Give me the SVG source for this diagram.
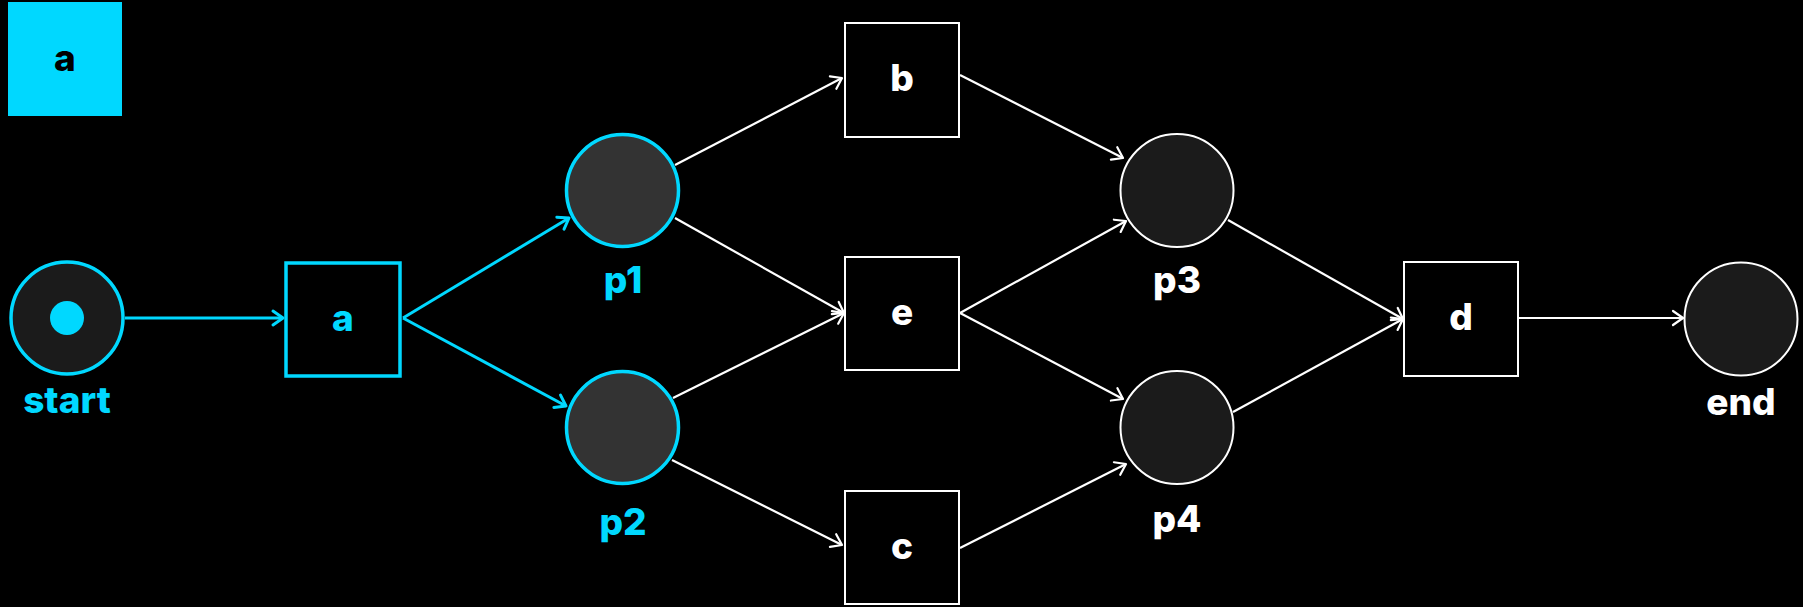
<svg xmlns="http://www.w3.org/2000/svg" width="1803" height="607" viewBox="0 0 1803 607">
  <defs>
    <style>
      .lbl { font-family: Inter, "Noto Sans", "Liberation Sans", sans-serif; font-weight: 800; font-size: 37px; text-anchor: middle; }
      .hot { fill: #00d8ff; }
      .cold { fill: #ffffff; }
      .dark { fill: #000000; }
      .place-hot { fill: #333333; stroke: #00d8ff; stroke-width: 3.5; }
      .place-hot-dark { fill: #1b1b1b; stroke: #00d8ff; stroke-width: 3.5; }
      .place { fill: #1b1b1b; stroke: #ffffff; stroke-width: 2; }
      .trans-hot { fill: #000000; stroke: #00d8ff; stroke-width: 3.5; }
      .trans { fill: #000000; stroke: #ffffff; stroke-width: 2; }
      .arc { fill: none; stroke: #ffffff; stroke-width: 2.2; marker-end: url(#tip-w); }
      .arc-hot { fill: none; stroke: #00d8ff; stroke-width: 3; marker-end: url(#tip-c); }
    </style>
    <marker id="tip-w" markerUnits="userSpaceOnUse" markerWidth="24" markerHeight="24" refX="0" refY="0" viewBox="-14 -12 16 24" orient="auto">
      <path d="M-10,-7 L0,0 L-10,7" fill="none" stroke="#ffffff" stroke-width="2.2" stroke-linecap="round" stroke-linejoin="round"/>
    </marker>
    <marker id="tip-c" markerUnits="userSpaceOnUse" markerWidth="24" markerHeight="24" refX="0" refY="0" viewBox="-14 -12 16 24" orient="auto">
      <path d="M-10,-7 L0,0 L-10,7" fill="none" stroke="#00d8ff" stroke-width="3" stroke-linecap="round" stroke-linejoin="round"/>
    </marker>
  </defs>

  <rect x="0" y="0" width="1803" height="607" fill="#000000"/>

  <!-- legend: active transition -->
  <g id="legend">
    <rect x="8" y="2" width="114" height="114" fill="#00d8ff"/>
    <text class="lbl dark" x="65" y="71">a</text>
  </g>

  <!-- arcs -->
  <g id="connectors">
    <path class="arc-hot" d="M125,318 L283,318"/>
    <path class="arc-hot" d="M403,318 L569,218"/>
    <path class="arc-hot" d="M403,318 L566,406"/>
    <path class="arc" d="M675,165 L842,78"/>
    <path class="arc" d="M675,218 L844,313"/>
    <path class="arc" d="M673,398 L844,313"/>
    <path class="arc" d="M672,460 L842,545"/>
    <path class="arc" d="M960,75 L1123,158"/>
    <path class="arc" d="M960,313 L1126,221"/>
    <path class="arc" d="M960,313 L1123,399"/>
    <path class="arc" d="M960,548 L1126,464"/>
    <path class="arc" d="M1228,220 L1403,319"/>
    <path class="arc" d="M1233,412 L1403,319"/>
    <path class="arc" d="M1519,318 L1683,318"/>
  </g>

  <g id="start">
    <circle class="place-hot-dark" cx="67" cy="318" r="56"/>
    <circle cx="67" cy="318" r="17" fill="#00d8ff"/>
    <text class="lbl hot" x="67" y="413">start</text>
  </g>

  <g id="t-a">
    <rect class="trans-hot" x="286" y="263" width="114" height="113"/>
    <text class="lbl hot" x="343" y="331">a</text>
  </g>

  <g id="p1">
    <circle class="place-hot" cx="622.5" cy="190.5" r="56"/>
    <text class="lbl hot" x="623" y="293">p1</text>
  </g>

  <g id="p2">
    <circle class="place-hot" cx="622.5" cy="427.5" r="56"/>
    <text class="lbl hot" x="623" y="535">p2</text>
  </g>

  <g id="t-b">
    <rect class="trans" x="845" y="23" width="114" height="114"/>
    <text class="lbl cold" x="902" y="91">b</text>
  </g>

  <g id="t-e">
    <rect class="trans" x="845" y="257" width="114" height="113"/>
    <text class="lbl cold" x="902" y="325">e</text>
  </g>

  <g id="t-c">
    <rect class="trans" x="845" y="491" width="114" height="113"/>
    <text class="lbl cold" x="902" y="559">c</text>
  </g>

  <g id="p3">
    <circle class="place" cx="1177" cy="190.5" r="56.5"/>
    <text class="lbl cold" x="1177" y="293">p3</text>
  </g>

  <g id="p4">
    <circle class="place" cx="1177" cy="427.5" r="56.5"/>
    <text class="lbl cold" x="1177" y="532">p4</text>
  </g>

  <g id="t-d">
    <rect class="trans" x="1404" y="262" width="114" height="114"/>
    <text class="lbl cold" x="1461" y="330">d</text>
  </g>

  <g id="end">
    <circle class="place" cx="1741" cy="319" r="56.5"/>
    <text class="lbl cold" x="1741" y="415">end</text>
  </g>
</svg>
